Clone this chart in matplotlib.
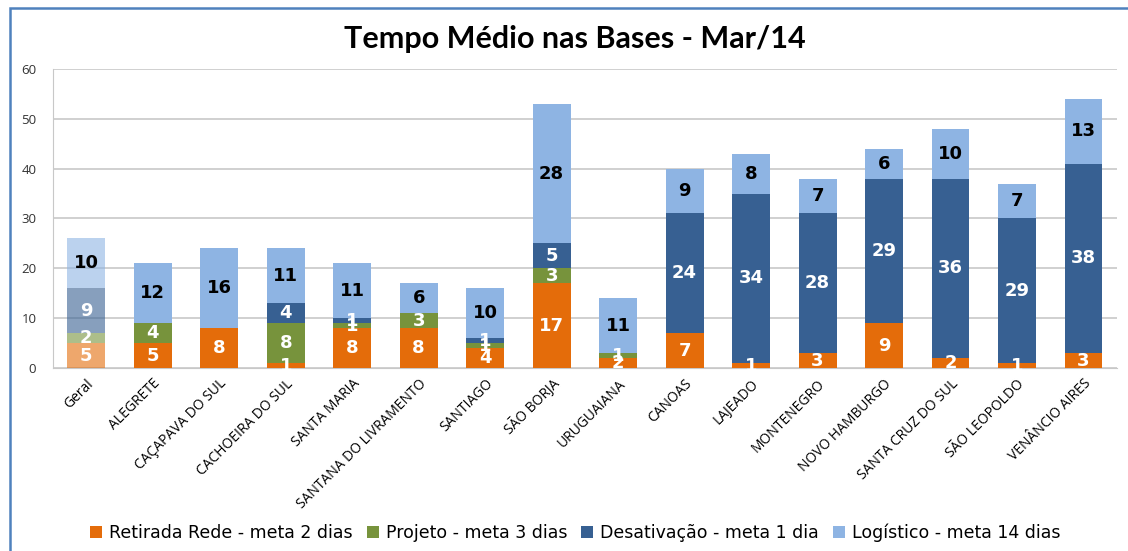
import numpy as np
import matplotlib
matplotlib.use("Agg")
import matplotlib.pyplot as plt
from matplotlib.patches import Rectangle, Patch

plt.rcParams['font.family'] = ['Open Sans', 'DejaVu Sans']

categories = ["Geral", "ALEGRETE", "CAÇAPAVA DO SUL", "CACHOEIRA DO SUL", "SANTA MARIA",
              "SANTANA DO LIVRAMENTO", "SANTIAGO", "SÃO BORJA", "URUGUAIANA", "CANOAS",
              "LAJEADO", "MONTENEGRO", "NOVO HAMBURGO", "SANTA CRUZ DO SUL",
              "SÃO LEOPOLDO", "VENÂNCIO AIRES"]
retirada = [5, 5, 8, 1, 8, 8, 4, 17, 2, 7, 1, 3, 9, 2, 1, 3]
projeto = [2, 4, 0, 8, 1, 3, 1, 3, 1, 0, 0, 0, 0, 0, 0, 0]
desativacao = [9, 0, 0, 4, 1, 0, 1, 5, 0, 24, 34, 28, 29, 36, 29, 38]
logistico = [10, 12, 16, 11, 11, 6, 10, 28, 11, 9, 8, 7, 6, 10, 7, 13]

series = [
    ("Retirada Rede - meta 2 dias", retirada, "#E46C0A", "white"),
    ("Projeto - meta 3 dias", projeto, "#77933C", "white"),
    ("Desativação - meta 1 dia", desativacao, "#376092", "white"),
    ("Logístico - meta 14 dias", logistico, "#8EB4E3", "black"),
]

fig = plt.figure(figsize=(11.28, 5.51), dpi=100)
ax = fig.add_axes([0.047, 0.332, 0.943, 0.543])

x = np.arange(len(categories))
bottom = np.zeros(len(categories))
handles = []
for name, vals, color, tcol in series:
    vals = np.array(vals, dtype=float)
    bars = ax.bar(x, vals, width=0.57, bottom=bottom, color=color,
                  edgecolor="none", zorder=3)
    # the "Geral" bar is drawn faded
    bars[0].set_alpha(0.6)
    handles.append(Patch(facecolor=color, label=name))
    for xi, b, v in zip(x, bottom, vals):
        if v > 0:
            ax.text(xi, b + v / 2, f"{int(v)}", ha="center", va="center",
                    color=tcol, fontsize=13, fontweight="bold", zorder=4,
                    family="DejaVu Sans")
    bottom += vals

ax.set_xlim(-0.5, len(categories) - 0.5)
ax.set_ylim(0, 60)
ax.set_yticks(range(0, 61, 10))
ax.yaxis.grid(True, color="#c8c8c8", linewidth=1.2, zorder=0)
ax.set_axisbelow(True)
for s in ["top", "right"]:
    ax.spines[s].set_visible(False)
ax.spines["left"].set_color("#c8c8c8")
ax.spines["bottom"].set_color("#c8c8c8")
ax.tick_params(axis="y", length=0, labelsize=9.5, colors="#333333", pad=12)
ax.tick_params(axis="x", length=0, labelsize=10, pad=6)
ax.set_xticks(x)
ax.set_xticklabels(categories, rotation=45, ha="right", rotation_mode="anchor")

fig.text(0.51, 0.93, "Tempo Médio nas Bases - Mar/14", ha="center", va="center",
         fontsize=22, fontweight="bold", family="Lato")

fig.legend(handles=handles, loc="center", bbox_to_anchor=(0.51, 0.033), ncol=4,
           frameon=False, handlelength=0.7, handleheight=0.7,
           handletextpad=0.4, columnspacing=0.8,
           prop={"family": "DejaVu Sans", "size": 12.5})

fig.patches.append(Rectangle((10 / 1128, -0.1), 1.2, 1 - 7.5 / 551 + 0.1,
                             transform=fig.transFigure, fill=False,
                             edgecolor="#4F81BD", linewidth=1.8))

fig.savefig("out.png", dpi=100)
